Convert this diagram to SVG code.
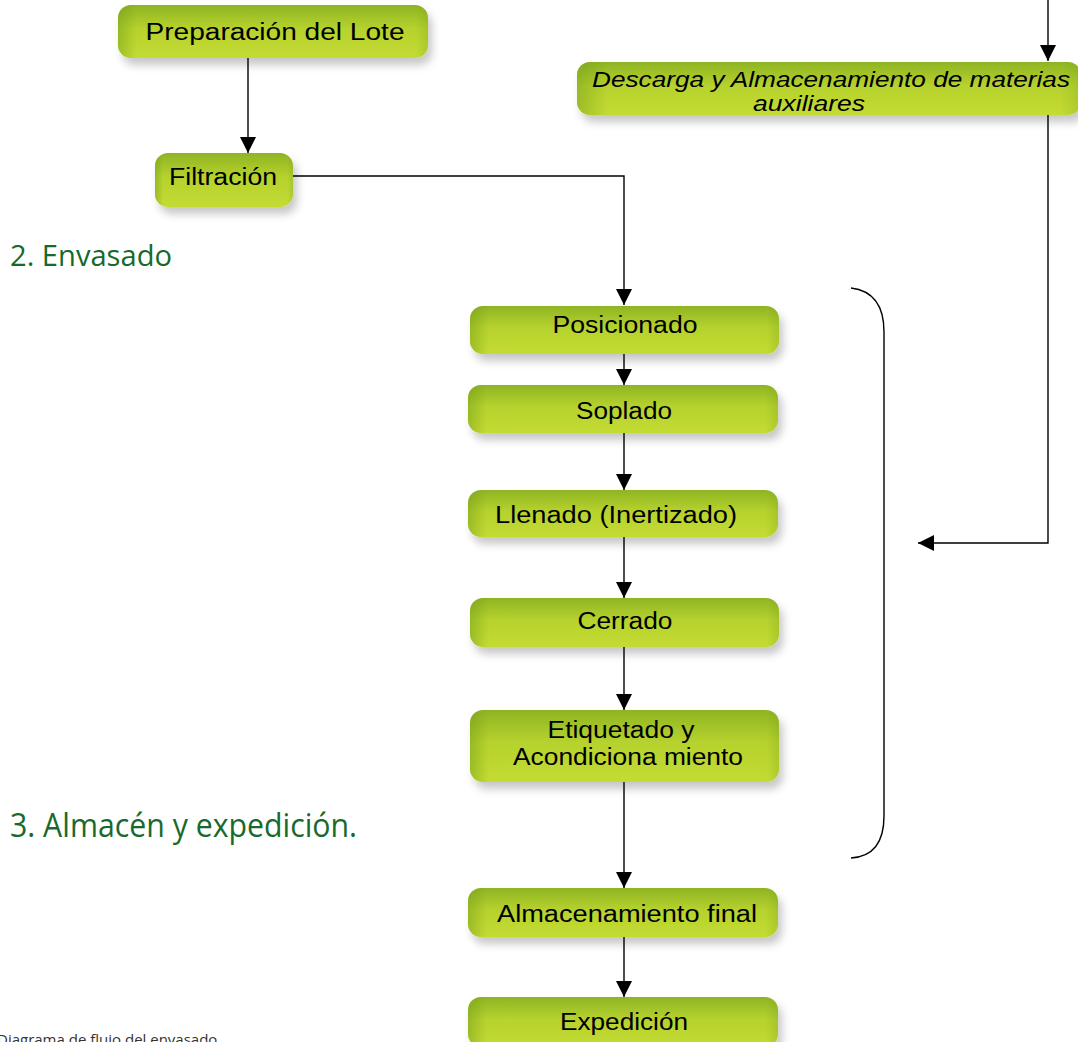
<svg xmlns="http://www.w3.org/2000/svg" width="1078" height="1042" viewBox="0 0 1078 1042">
<defs>
<linearGradient id="g" x1="0" y1="0" x2="0" y2="1">
<stop offset="0" stop-color="#8fb423"/>
<stop offset="0.45" stop-color="#b6d22e"/>
<stop offset="1" stop-color="#c4db31"/>
</linearGradient>
<linearGradient id="gx" x1="0" y1="0" x2="1" y2="0">
<stop offset="0" stop-color="#6f9a18" stop-opacity="0.45"/>
<stop offset="0.06" stop-color="#6f9a18" stop-opacity="0"/>
<stop offset="0.96" stop-color="#6f9a18" stop-opacity="0"/>
<stop offset="1" stop-color="#6f9a18" stop-opacity="0.25"/>
</linearGradient>
<filter id="sh" x="-10%" y="-30%" width="125%" height="170%">
<feDropShadow dx="4" dy="7" stdDeviation="4" flood-color="#000" flood-opacity="0.22"/>
</filter>
<marker id="ah" markerWidth="16" markerHeight="16" viewBox="0 0 16 16" refX="16" refY="8" orient="auto" markerUnits="userSpaceOnUse">
<path d="M0,0 L16,8 L0,16 Z" fill="#000"/>
</marker>
</defs>
<style>
.box{fill:url(#g);filter:url(#sh)}
.edge{fill:url(#gx)}
.t{font-family:"Liberation Sans",Arial,sans-serif;font-size:23px;fill:#000;text-anchor:middle}
.ti{font-family:"Liberation Sans",Arial,sans-serif;font-size:22px;font-style:italic;fill:#000;text-anchor:middle}
.h{font-family:"Open Sans","Noto Sans",sans-serif;fill:#176a2c}
.c{stroke:#000;stroke-width:1.4;fill:none}
</style>

<g id="connectors">
<path class="c" d="M248,58 V153" marker-end="url(#ah)"/>
<path class="c" d="M293,176 H624 V305" marker-end="url(#ah)"/>
<path class="c" d="M1048,0 V61" marker-end="url(#ah)"/>
<path class="c" d="M1048,115 V543 H918" marker-end="url(#ah)"/>
<path class="c" d="M624,354 V385" marker-end="url(#ah)"/>
<path class="c" d="M624,433 V490" marker-end="url(#ah)"/>
<path class="c" d="M624,537 V598" marker-end="url(#ah)"/>
<path class="c" d="M624,647 V710" marker-end="url(#ah)"/>
<path class="c" d="M624,782 V888" marker-end="url(#ah)"/>
<path class="c" d="M624,937 V997" marker-end="url(#ah)"/>
<path class="c" d="M851,288 Q884,292 884,332 V816 Q884,856 851,858"/>
</g>

<g id="n-preparacion">
<rect class="box" x="118" y="5" width="310" height="53" rx="13"/>
<rect class="edge" x="118" y="5" width="310" height="53" rx="13"/>
<text class="t" x="275" y="40" textLength="259" lengthAdjust="spacingAndGlyphs">Preparación del Lote</text>
</g>

<g id="n-filtracion">
<rect class="box" x="155" y="153" width="138" height="54" rx="13"/>
<rect class="edge" x="155" y="153" width="138" height="54" rx="13"/>
<text class="t" x="223" y="185" textLength="108" lengthAdjust="spacingAndGlyphs">Filtración</text>
</g>

<g id="n-descarga">
<rect class="box" x="577" y="62" width="504" height="53" rx="13"/>
<rect class="edge" x="577" y="62" width="504" height="53" rx="13"/>
<text class="ti" x="831" y="87" textLength="478" lengthAdjust="spacingAndGlyphs">Descarga y Almacenamiento de materias</text>
<text class="ti" x="809" y="111" textLength="112" lengthAdjust="spacingAndGlyphs">auxiliares</text>
</g>

<g id="n-posicionado">
<rect class="box" x="470" y="306" width="309" height="48" rx="13"/>
<rect class="edge" x="470" y="306" width="309" height="48" rx="13"/>
<text class="t" x="625" y="333" textLength="145" lengthAdjust="spacingAndGlyphs">Posicionado</text>
</g>

<g id="n-soplado">
<rect class="box" x="468" y="385" width="310" height="48" rx="13"/>
<rect class="edge" x="468" y="385" width="310" height="48" rx="13"/>
<text class="t" x="624" y="419" textLength="96" lengthAdjust="spacingAndGlyphs">Soplado</text>
</g>

<g id="n-llenado">
<rect class="box" x="468" y="490" width="310" height="47" rx="13"/>
<rect class="edge" x="468" y="490" width="310" height="47" rx="13"/>
<text class="t" x="616" y="523" textLength="242" lengthAdjust="spacingAndGlyphs">Llenado (Inertizado)</text>
</g>

<g id="n-cerrado">
<rect class="box" x="470" y="598" width="309" height="49" rx="13"/>
<rect class="edge" x="470" y="598" width="309" height="49" rx="13"/>
<text class="t" x="625" y="629" textLength="95" lengthAdjust="spacingAndGlyphs">Cerrado</text>
</g>

<g id="n-etiquetado">
<rect class="box" x="470" y="710" width="309" height="72" rx="13"/>
<rect class="edge" x="470" y="710" width="309" height="72" rx="13"/>
<text class="t" x="621" y="738" textLength="147" lengthAdjust="spacingAndGlyphs">Etiquetado y</text>
<text class="t" x="628" y="765" textLength="230" lengthAdjust="spacingAndGlyphs">Acondiciona miento</text>
</g>

<g id="n-almacenamiento">
<rect class="box" x="468" y="888" width="310" height="49" rx="13"/>
<rect class="edge" x="468" y="888" width="310" height="49" rx="13"/>
<text class="t" x="627" y="922" textLength="260" lengthAdjust="spacingAndGlyphs">Almacenamiento final</text>
</g>

<g id="n-expedicion">
<rect class="box" x="468" y="997" width="310" height="50" rx="13"/>
<rect class="edge" x="468" y="997" width="310" height="50" rx="13"/>
<text class="t" x="624" y="1030" textLength="128" lengthAdjust="spacingAndGlyphs">Expedición</text>
</g>

<g id="labels">
<text class="h" x="10" y="266" font-size="29" textLength="162" lengthAdjust="spacingAndGlyphs">2. Envasado</text>
<text class="h" x="10" y="837" font-size="32" textLength="347" lengthAdjust="spacingAndGlyphs">3. Almacén y expedición.</text>
<text x="-3" y="1045" font-family="Open Sans, Noto Sans, sans-serif" font-size="15" fill="#333">Diagrama de flujo del envasado</text>
</g>
</svg>
